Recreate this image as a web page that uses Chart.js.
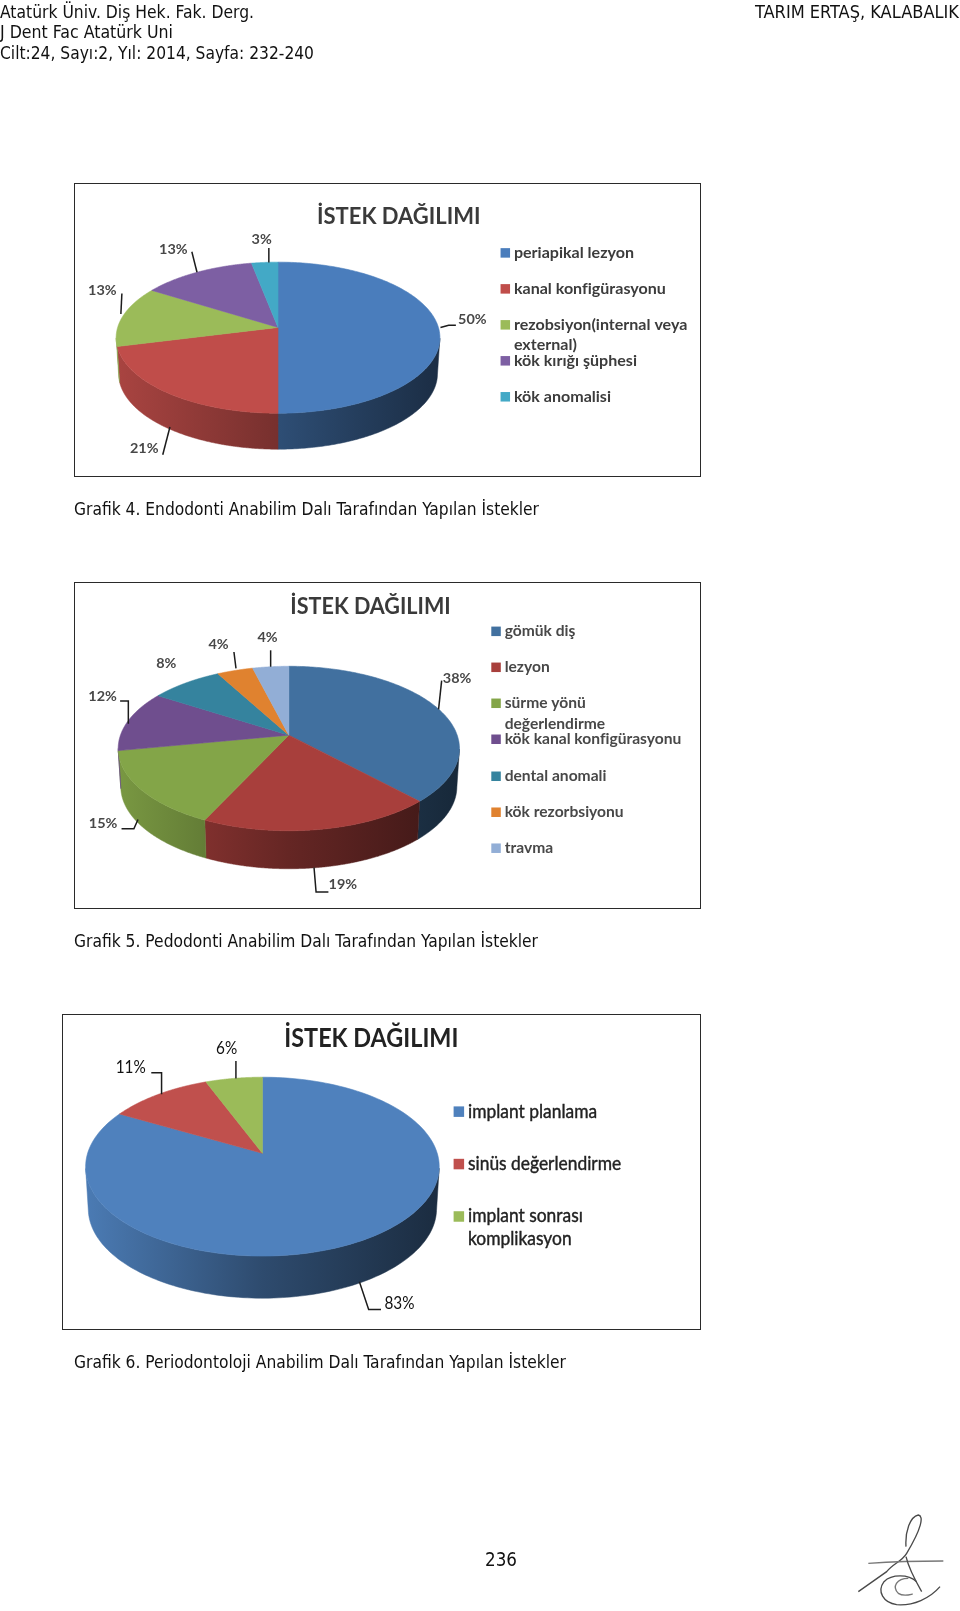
<!DOCTYPE html>
<html lang="tr">
<head>
<meta charset="utf-8">
<title>Grafik 4-6</title>
<script src="https://cdn.jsdelivr.net/npm/chart.js@4/dist/chart.umd.js"></script>
<style>
html,body{margin:0;padding:0;background:#fff;width:960px;height:1611px;overflow:hidden}
.t{position:absolute;white-space:nowrap;font-family:"DejaVu Sans Condensed","DejaVu Sans",sans-serif;color:#111;transform-origin:0 50%;line-height:1}
.panel{position:absolute;box-sizing:border-box;border:1px solid #2a2a2a;background:#fff;overflow:hidden}
canvas{position:absolute;left:-1px;top:-1px;display:block}
svg{position:absolute}
</style>
</head>
<body>
<svg style="left:460px;top:1500px;filter:blur(.5px)" width="500" height="111" viewBox="0 0 1500 333" fill="none" stroke="#4a4a4a" stroke-width="4">
<path d="M1338 140C1335 95 1350 50 1375 45C1392 48 1385 85 1340 160C1325 185 1300 190 1280 215L1195 275"/>
<path d="M1225 190C1300 185 1380 183 1450 183" stroke="#777"/>
<path d="M1338 170C1345 200 1365 240 1385 275"/>
<path d="M1370 245C1345 222 1295 222 1272 245C1250 275 1270 308 1310 314C1360 318 1410 295 1440 260"/>
<path d="M1345 235C1310 235 1295 260 1315 280C1330 290 1345 285 1358 282" stroke="#777"/>
</svg>
<script>
// ---------- chart values ----------
const titleText = "İSTEK DAĞILIMI";

const categories4 = ["periapikal lezyon", "kanal konfigürasyonu", "rezobsiyon(internal veya\nexternal)", "kök kırığı şüphesi", "kök anomalisi"];
const values4 = [50, 21, 13, 13, 3];
const colors4 = ["#4a7dbc", "#c04d4a", "#9bbb59", "#7d5fa3", "#43a9c6"];

const categories5 = ["gömük diş", "lezyon", "sürme yönü\ndeğerlendirme", "kök kanal konfigürasyonu", "dental anomali", "kök rezorbsiyonu", "travma"];
const values5 = [38, 19, 15, 12, 8, 4, 4];
const colors5 = ["#41709f", "#a83f3c", "#83a548", "#6f4e8e", "#35839e", "#e0822f", "#92aed6"];

const categories6 = ["implant planlama", "sinüs değerlendirme", "implant sonrası\nkomplikasyon"];
const values6 = [83, 11, 6];
const colors6 = ["#4f81bd", "#c0504d", "#9bbb59"];

// ---------- page text ----------
const pageTexts = [
  {s:"Atatürk Üniv. Diş Hek. Fak. Derg.", x:0, y:12, w:254, f:18},
  {s:"J Dent Fac Atatürk Uni", x:0, y:32, w:173, f:18},
  {s:"Cilt:24, Sayı:2, Yıl: 2014, Sayfa: 232-240", x:0, y:53, w:314, f:18},
  {s:"TARIM ERTAŞ, KALABALIK", x:755, y:12, w:204, f:18},
  {s:"Grafik 4. Endodonti Anabilim Dalı Tarafından Yapılan İstekler", x:74, y:508.5, w:465, f:18},
  {s:"Grafik 5. Pedodonti Anabilim Dalı Tarafından Yapılan İstekler", x:74, y:940.5, w:464, f:18},
  {s:"Grafik 6. Periodontoloji Anabilim Dalı Tarafından Yapılan İstekler", x:74, y:1362, w:492, f:18},
  {s:"236", x:485, y:1559, w:32, f:20}
];
pageTexts.forEach(o=>{
  const e=document.createElement('div');e.className='t';e.textContent=o.s;
  e.style.left=o.x+'px';e.style.top=(o.y-o.f/2)+'px';e.style.fontSize=o.f+'px';
  document.body.appendChild(e);
  e.style.transform='scaleX('+(o.w/e.getBoundingClientRect().width)+')';
});

// ---------- layout (measured in the 934-wide preview, scaled by Z) ----------
const Z = 960/934;
const layouts = [
 {frame:[72,178,682,464], cx:270.5, cy:328.5, rx:157.5, ry:73.5, apex:10, depth:35, blur:.7,
  title:{x:388,y:211,size:22,sx:1,color:"#3a3a3a"},
  legend:{sw:487,tx:500,size:15,sx:1.07,weight:'bold',heavy:0,ys:[246,281,316,351,386],lineH:20,swatch:9.5,color:"#3c3c3c"},
  label:{size:14,sx:1.03,color:"#484848"},
  marks:[
   {t:[33,-8],p:[[2,0],[10,-2],[17,-2]]},
   {wall:1,t:[-23,19],p:[[2,-2],[-5,25]]},
   {t:[-20,-25],p:[[-2,-2],[-1,-22]]},
   {t:[-23,-22],p:[[0,0],[-5,-20]]},
   {t:[-3,-22],p:[[4,0],[4,-14]]}
  ]},
 {frame:[72,566,682,884], cx:281, cy:728, rx:166, ry:80, apex:13, depth:37, blur:.7,
  title:{x:360.5,y:590,size:22,sx:.98,color:"#3a3a3a"},
  legend:{sw:478,tx:491,size:15,sx:1.04,weight:'bold',heavy:0,ys:[614,649,684,719,755,790,825],lineH:20,swatch:9.5,color:"#484848"},
  label:{size:14,sx:1.03,color:"#484848"},
  marks:[
   {t:[20,-28],p:[[2,2],[5,-26]]},
   {wall:1,t:[22,17],p:[[-6,0],[-4,24],[8,24]]},
   {wall:1,t:[-37,-4],p:[[-3,-8],[-7,1],[-19,1]]},
   {t:[-25,-23],p:[[0,3],[0,-19],[-8,-19]]},
   {t:[-19,-19],p:[]},
   {t:[-16,-25],p:[[1,-2],[-1,-18]]},
   {t:[-3,-28],p:[[0,0],[0,-16]]}
  ]},
 {frame:[60,987,682,1294], cx:255, cy:1135.5, rx:172, ry:87, apex:13, depth:41, blur:.35,
  title:{x:361,y:1011,size:26,sx:.9,color:"#222"},
  legend:{sw:441,tx:455,size:18.5,sx:.94,weight:'normal',heavy:.4,ys:[1082,1133,1184],lineH:22,swatch:10.5,color:"#222"},
  label:{size:17,sx:.9,weight:'normal',color:"#111"},
  marks:[
   {wall:1,t:[34,21],p:[[-5,0],[4,27],[16,27]]},
   {t:[-27,-26],p:[[3,0],[3,-21],[-7,-21]]},
   {t:[-7,-29],p:[[2,0],[2,-17]]}
  ]}
];

// ---------- helpers ----------
function shade(hex,f){
  const n=parseInt(hex.slice(1),16);
  const c=[n>>16&255,n>>8&255,n&255].map(v=>Math.round(v*f));
  return 'rgb('+c.join(',')+')';
}
function fitText(ctx,s,x,y,sx,heavy){
  ctx.save();ctx.translate(x,y);ctx.scale(sx,1);ctx.fillText(s,0,0);
  if(heavy){ctx.lineWidth=heavy;ctx.strokeStyle=ctx.fillStyle;ctx.strokeText(s,0,0);}
  ctx.restore();
}

// Perspective pie: maps a library arc angle to a point on the tilted ellipse.
function projector(el,opts){
  const R=el.outerRadius*opts.squash, p=opts.apex/R;
  const a=el.outerRadius*Math.sqrt(1-p*p);
  return ang=>{
    const x=Math.cos(ang), y=Math.sin(ang), d=1-p*y;
    return {x:el.x+a*x/d, y:el.y+R*(y-p)/d, vis:y>=p};
  };
}

const pie3d = {
  id:'pie3d',
  beforeDatasetDraw(chart,args,opts){
    const ctx=chart.ctx, meta=chart.getDatasetMeta(0), arcs=meta.data, cols=chart.data.datasets[0].backgroundColor;
    const first=arcs[0], left=first.x-first.outerRadius, right=first.x+first.outerRadius;
    // side wall
    arcs.forEach((el,i)=>{
      const P=projector(el,opts), n=240, pts=[];
      for(let k=0;k<=n;k++){
        const q=P(el.startAngle+(el.endAngle-el.startAngle)*k/n);
        if(q.vis)pts.push(q);
      }
      if(pts.length<2)return;
      const g=ctx.createLinearGradient(left,0,right,0);
      g.addColorStop(0,shade(cols[i],opts.wallL));
      g.addColorStop(.5,shade(cols[i],opts.wallM));
      g.addColorStop(1,shade(cols[i],opts.wallR));
      ctx.beginPath();
      pts.forEach((q,k)=>k?ctx.lineTo(q.x,q.y):ctx.moveTo(q.x,q.y));
      for(let k=pts.length-1;k>=0;k--){
        const q=pts[k];
        ctx.lineTo(el.x+(q.x-el.x)*opts.narrow,q.y+opts.depth);
      }
      ctx.closePath();ctx.fillStyle=g;ctx.fill();
      ctx.strokeStyle=g;ctx.lineWidth=.5;ctx.stroke();
    });
    // top faces
    arcs.forEach((el,i)=>{
      const P=projector(el,opts), n=160;
      ctx.beginPath();
      ctx.moveTo(el.x,el.y-opts.apex);
      for(let k=0;k<=n;k++){
        const q=P(el.startAngle+(el.endAngle-el.startAngle)*k/n);
        ctx.lineTo(q.x,q.y);
      }
      ctx.closePath();ctx.fillStyle=cols[i];ctx.fill();
      ctx.strokeStyle=cols[i];ctx.lineWidth=.6;ctx.stroke();
    });
    return false;
  },
  afterDatasetsDraw(chart,args,opts){
    const ctx=chart.ctx, L=opts.layout, meta=chart.getDatasetMeta(0), ds=chart.data.datasets[0];
    const ox=L.frame[0]*Z, oy=L.frame[1]*Z;
    ctx.save();
    // leader lines and value labels
    ctx.textAlign='left';ctx.textBaseline='middle';
    ctx.font=(L.label.weight||'bold')+' '+L.label.size+'px Lato';
    meta.data.forEach((el,i)=>{
      const P=projector(el,opts), m=L.marks[i];
      const q=P((el.startAngle+el.endAngle)/2);
      const ax=q.x, ay=q.y+(m.wall?opts.depth:0);
      if(m.p.length){
        ctx.beginPath();
        m.p.forEach((d,k)=>{const X=ax+d[0]*Z,Y=ay+d[1]*Z;k?ctx.lineTo(X,Y):ctx.moveTo(X,Y);});
        ctx.strokeStyle='#1c1c1c';ctx.lineWidth=1.5;ctx.stroke();
      }
      const s=ds.data[i]+'%';
      ctx.fillStyle=L.label.color;
      const w=ctx.measureText(s).width*L.label.sx;
      fitText(ctx,s,ax+m.t[0]*Z-w/2,ay+m.t[1]*Z,L.label.sx);
    });
    // title
    ctx.fillStyle=L.title.color;
    ctx.font='bold '+L.title.size+'px Lato';
    const tw=ctx.measureText(titleText).width*L.title.sx;
    fitText(ctx,titleText,L.title.x*Z-ox-tw/2,L.title.y*Z-oy,L.title.sx);
    // legend
    ctx.font=L.legend.weight+' '+L.legend.size+'px Lato';
    chart.data.labels.forEach((lab,i)=>{
      const y=L.legend.ys[i]*Z-oy, sw=L.legend.swatch;
      ctx.fillStyle=ds.backgroundColor[i];
      ctx.fillRect(L.legend.sw*Z-ox,y-sw/2,sw,sw);
      ctx.fillStyle=L.legend.color;
      lab.split('\n').forEach((ln,k)=>fitText(ctx,ln,L.legend.tx*Z-ox,y+k*L.legend.lineH*Z,L.legend.sx,L.legend.heavy));
    });
    ctx.restore();
  }
};

// ---------- charts ----------
const sets=[[categories4,values4,colors4],[categories5,values5,colors5],[categories6,values6,colors6]];
const walls=[{wallL:.88,wallM:.62,wallR:.36},{wallL:.92,wallM:.6,wallR:.36},{wallL:.95,wallM:.58,wallR:.34}];
Promise.all([document.fonts.load('bold 16px Lato'),document.fonts.load('16px Lato')]).finally(()=>{
  sets.forEach((set,idx)=>{
    const L=layouts[idx];
    const fx=L.frame[0]*Z, fy=L.frame[1]*Z, W=Math.round((L.frame[2]-L.frame[0])*Z), H=Math.round((L.frame[3]-L.frame[1])*Z);
    const panel=document.createElement('div');panel.className='panel';
    Object.assign(panel.style,{left:Math.round(fx)+'px',top:Math.round(fy)+'px',width:W+'px',height:H+'px'});
    const cv=document.createElement('canvas');cv.width=W;cv.height=H;
    cv.style.width=W+'px';cv.style.height=H+'px';cv.style.filter='blur('+L.blur+'px)';
    panel.appendChild(cv);document.body.appendChild(panel);
    const cx=L.cx*Z-fx, cy=L.cy*Z-fy, rx=L.rx*Z;
    const dx=W-2*cx, dy=H-2*cy;
    new Chart(cv.getContext('2d'),{
      type:'pie',
      data:{labels:set[0],datasets:[{data:set[1],backgroundColor:set[2],borderWidth:0,radius:rx}]},
      options:{
        responsive:false,animation:false,events:[],devicePixelRatio:1,
        layout:{padding:{left:dx<0?-dx:0,right:dx>0?dx:0,top:dy<0?-dy:0,bottom:dy>0?dy:0}},
        plugins:{
          legend:{display:false},tooltip:{enabled:false},title:{display:false},
          pie3d:Object.assign({squash:L.ry/L.rx,apex:L.apex*Z,depth:L.depth*Z,narrow:.985,layout:L},walls[idx])
        }
      },
      plugins:[pie3d]
    });
  });
});
</script>
</body>
</html>
